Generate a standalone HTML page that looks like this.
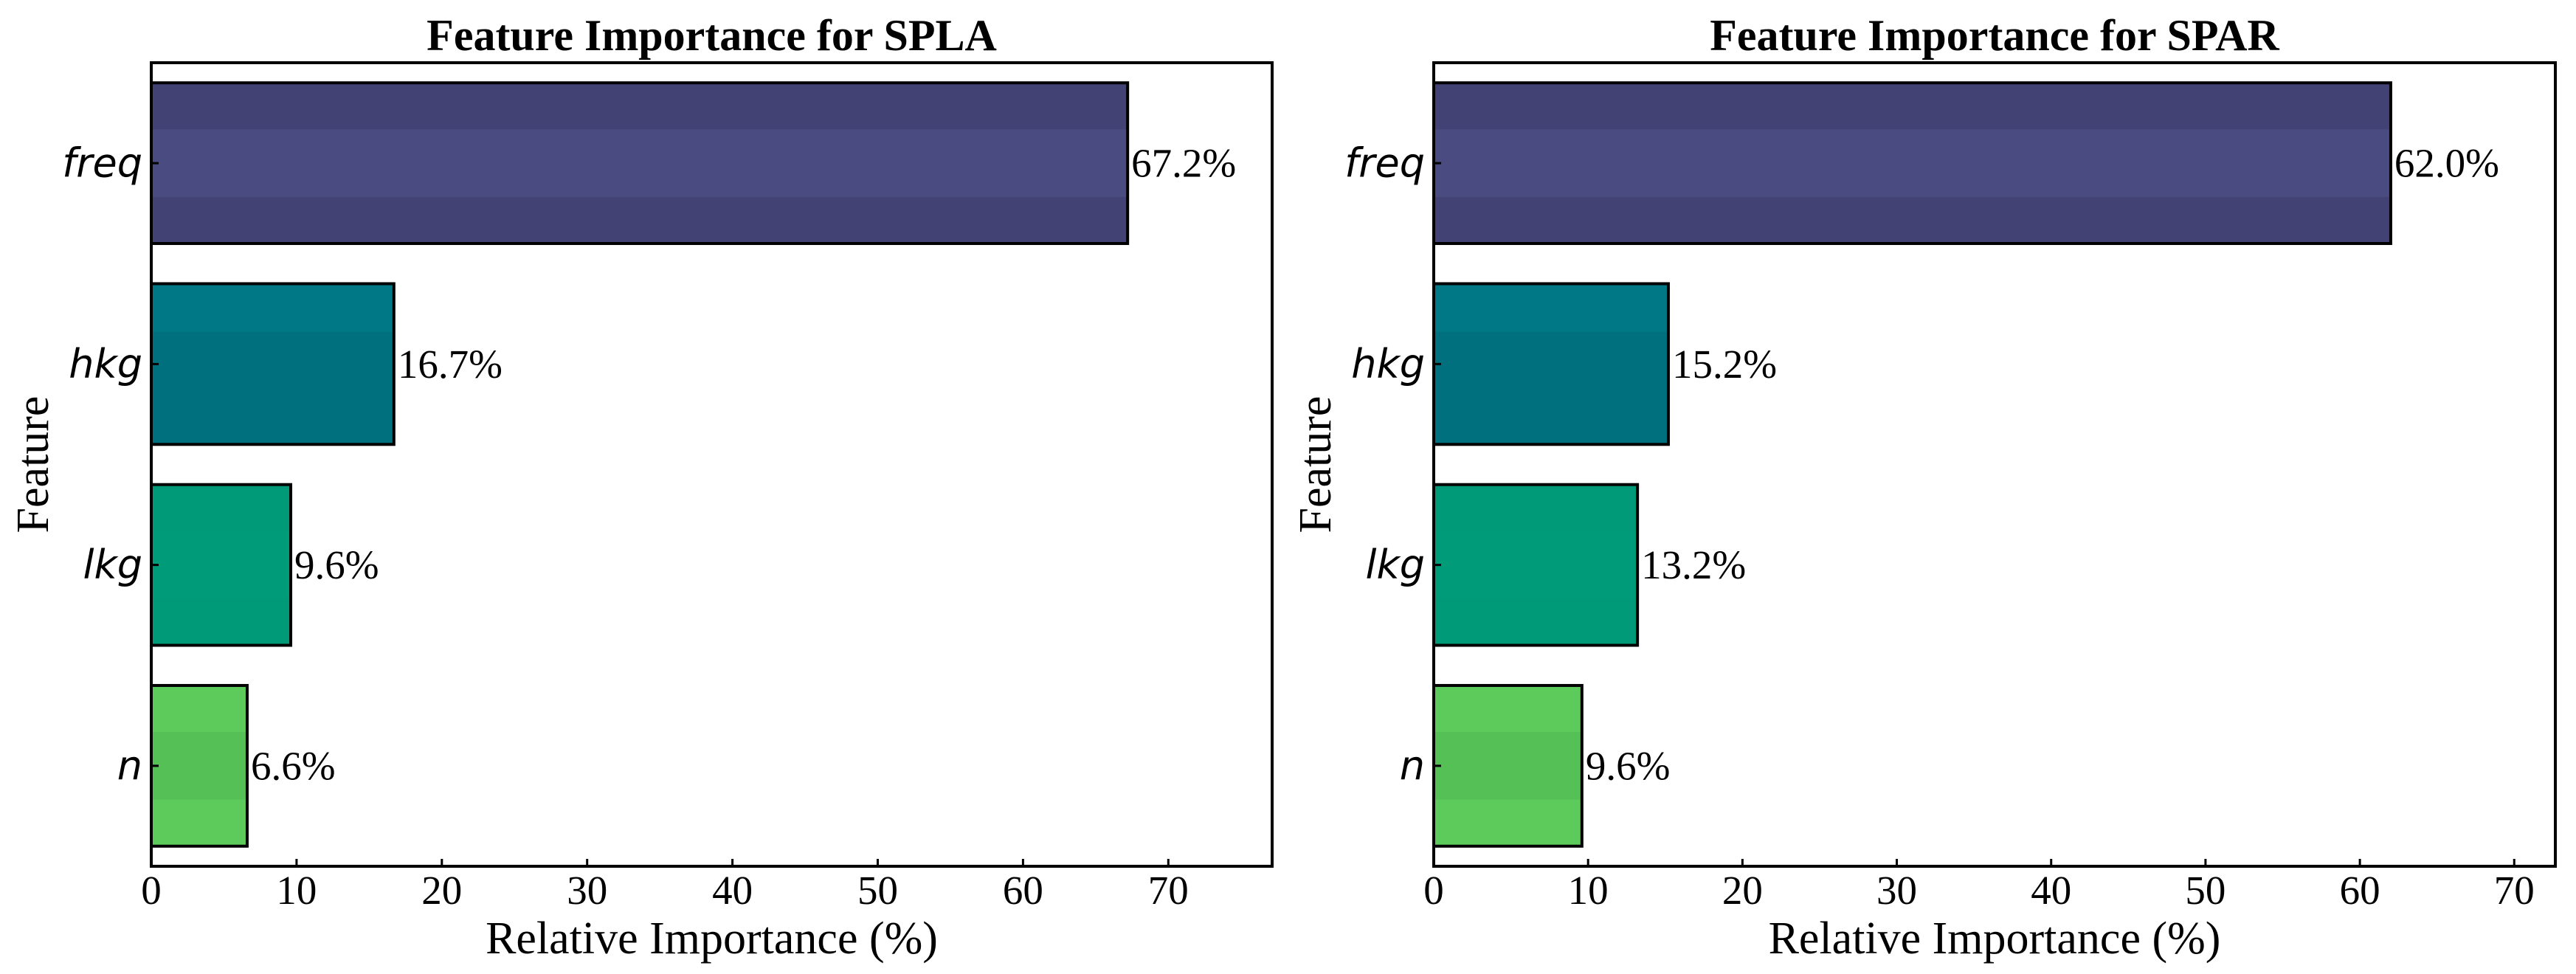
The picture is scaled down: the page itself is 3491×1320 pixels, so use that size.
<!DOCTYPE html>
<html><head><meta charset="utf-8">
<style>
html,body{margin:0;padding:0;background:#fff;}
svg{display:block;}
text{font-family:"Liberation Serif","DejaVu Serif",serif;fill:#000;}
.yt{font-family:"DejaVu Sans","Liberation Sans",sans-serif;font-style:italic;}
</style></head>
<body>
<svg id="fig" width="3491" height="1320" xmlns="http://www.w3.org/2000/svg"></svg>
<script>
const features = ["freq","hkg","lkg","n"];
const splaValues = [67.2, 16.7, 9.6, 6.6];
const sparValues = [62.0, 15.2, 13.2, 9.6];
const xTicks = [0,10,20,30,40,50,60,70];
const titles = ["Feature Importance for SPLA","Feature Importance for SPAR"];
const xPad = [1.148, 1.172];
const barOuter = ["#424274","#00707f","#009a78","#5ccb5c"];
const barInner = ["#4a4c81","#007886","#009b79","#55c055"];

const NS="http://www.w3.org/2000/svg";
const svgEl=document.getElementById('fig');
function mk(tag,attrs,parent){const e=document.createElementNS(NS,tag);for(const k in attrs)e.setAttribute(k,attrs[k]);(parent||svgEl).appendChild(e);return e;}

const panels=[
  {left:205,right:1724,values:splaValues,title:titles[0],key:'spla',pad:xPad[0]},
  {left:1943,right:3463,values:sparValues,title:titles[1],key:'spar',pad:xPad[1]}
];
const axTop=85, axBottom=1174;

panels.forEach((p)=>{
  const xmax=Math.max(...p.values)*p.pad;
  const xs=v=>p.left+(v/xmax)*(p.right-p.left);
  const pitch=(axBottom-axTop)/features.length;
  const yc=i=>axTop+pitch*(i+0.5);
  const g=mk('g',{});
  
  

  p.values.forEach((v,i)=>{
    const h=pitch*0.8, y0=yc(i)-h/2, x1=xs(v);
    const bg=mk('g',{},g);
    
    
    mk('rect',{x:p.left,y:y0,width:x1-p.left,height:h,fill:barOuter[i]},bg);
    if(i===1){
      mk('rect',{x:p.left,y:y0,width:x1-p.left,height:h*0.3,fill:barInner[i]},bg);
    } else {
      mk('rect',{x:p.left,y:y0+h*0.29,width:x1-p.left,height:h*0.42,fill:barInner[i]},bg);
    }
    mk('rect',{x:p.left,y:y0,width:x1-p.left,height:h,fill:'none',stroke:'#000','stroke-width':4},bg);
    const lab=mk('text',{x:x1+5,y:yc(i),'dominant-baseline':'central','font-size':55},g);
    lab.textContent=v.toFixed(1)+'%';
    
    
    const tk=mk('line',{x1:p.left,x2:p.left+10,y1:yc(i),y2:yc(i),stroke:'#000','stroke-width':3},g);
    
    
    const yl=mk('text',{x:p.left-12,y:yc(i),'text-anchor':'end','dominant-baseline':'central','font-size':54,class:'yt'},g);
    yl.textContent=features[i];
    
    
  });

  xTicks.forEach(t=>{
    const x=xs(t);
    const tk=mk('line',{x1:x,x2:x,y1:axBottom,y2:axBottom-10,stroke:'#000','stroke-width':3},g);
    
    
    const tl=mk('text',{x:x,y:1225,'text-anchor':'middle','font-size':55},g);
    tl.textContent=String(t);
    
    
  });

  const fr=mk('rect',{x:p.left,y:axTop,width:p.right-p.left,height:axBottom-axTop,fill:'none',stroke:'#000','stroke-width':4},g);
  
  

  const cx=(p.left+p.right)/2;
  const ti=mk('text',{x:cx,y:68,'text-anchor':'middle','font-size':60,'font-weight':'bold'},g);
  ti.textContent=p.title;
  
  

  const xl=mk('text',{x:cx,y:1292,'text-anchor':'middle','font-size':62},g);
  xl.textContent='Relative Importance (%)';
  
  

  const ylx=p.left-140, yly=(axTop+axBottom)/2;
  const ya=mk('text',{x:ylx,y:yly,'text-anchor':'middle','font-size':62,transform:`rotate(-90 ${ylx} ${yly})`},g);
  ya.textContent='Feature';
  
  
});
</script>
</body></html>
